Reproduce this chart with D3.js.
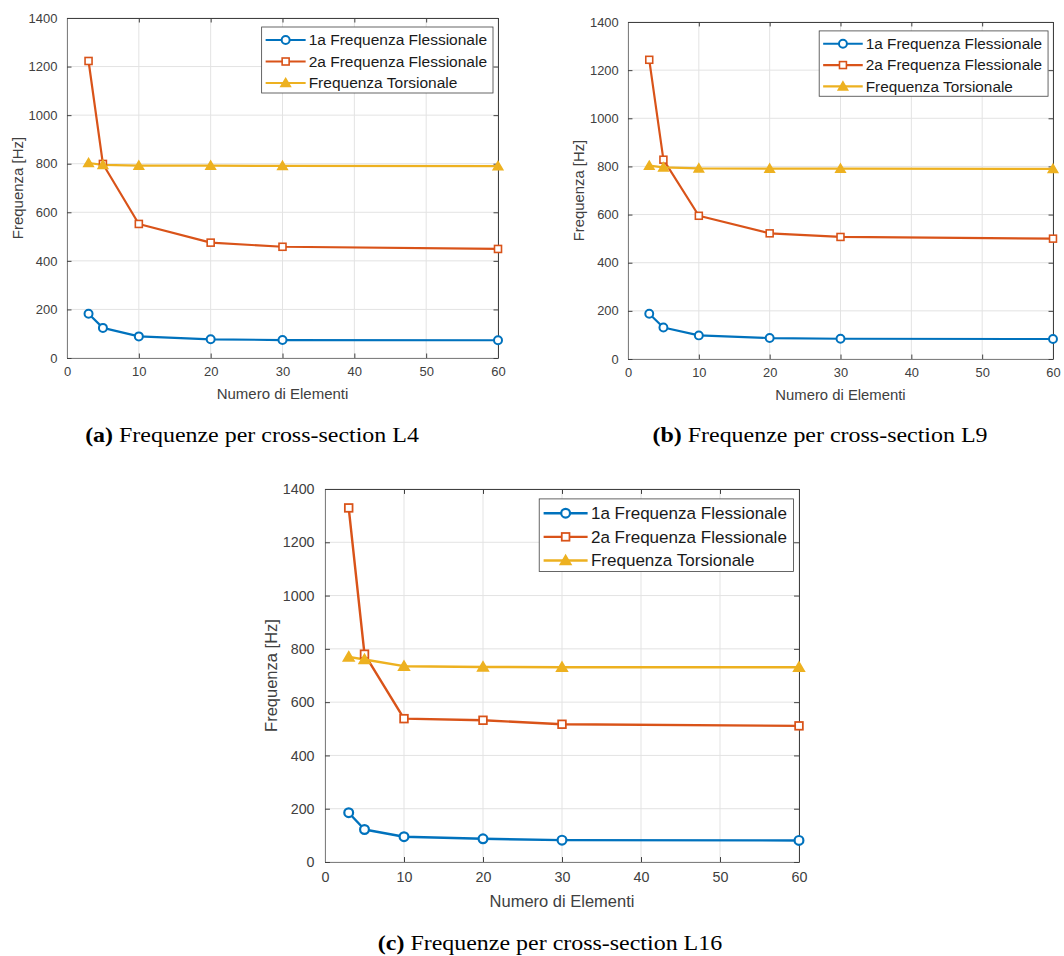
<!DOCTYPE html>
<html>
<head>
<meta charset="utf-8">
<script src="https://cdn.jsdelivr.net/npm/d3@7"></script>
<style>
	body { margin: 0; background: #fff; }
	text { font-family: "Liberation Sans", Arial, sans-serif; }
	.caption { font-family: "Liberation Serif", "Times New Roman", serif; fill: #000; }
</style>
</head>
<body>
<div id="chart"></div>
<script>
// Numero di elementi (asse x)
var elements = [3, 5, 10, 20, 30, 60];
var xTicks = [0, 10, 20, 30, 40, 50, 60];
var yTicks = [0, 200, 400, 600, 800, 1000, 1200, 1400];

var seriesNames = ["1a Frequenza Flessionale", "2a Frequenza Flessionale", "Frequenza Torsionale"];
var seriesColors = ["#0072BD", "#D95319", "#EDB120"];
var seriesMarkers = ["circle", "square", "triangle"];

// cross-section L4
var l4Flex1 = [182, 124, 89, 77, 74, 73];
var l4Flex2 = [1223, 799, 552, 475, 458, 449];
var l4Tors  = [803, 795, 792, 792, 791, 790];
// cross-section L9
var l9Flex1 = [188, 131, 98, 87, 84, 83];
var l9Flex2 = [1243, 828, 595, 522, 507, 500];
var l9Tors  = [803, 796, 792, 791, 791, 790];
// cross-section L16
var l16Flex1 = [185, 122, 95, 87, 82, 81];
var l16Flex2 = [1329, 780, 538, 532, 517, 511];
var l16Tors  = [770, 760, 735, 732, 731, 731];

var captionTags = ["(a)", "(b)", "(c)"];
var captionTexts = ["Frequenze per cross-section L4", "Frequenze per cross-section L9", "Frequenze per cross-section L16"];
var xLabel = "Numero di Elementi",
	yLabel = "Frequenza [Hz]";

var panelData = [
	[l4Flex1, l4Flex2, l4Tors],
	[l9Flex1, l9Flex2, l9Tors],
	[l16Flex1, l16Flex2, l16Tors]
];

// posizione dei tre grafici nella pagina
var panels = [
	{ left: 67, top: 18, width: 431, height: 340, s: 1, capX: 252, capY: 442 },
	{ left: 628, top: 22, width: 425, height: 337, s: 0.99, capX: 820, capY: 442 },
	{ left: 325, top: 489, width: 474, height: 373, s: 1.1, capX: 550, capY: 950 }
];

var svg = d3.select("#chart").append("svg")
	.attr("width", 1064)
	.attr("height", 956);

function drawMarker(g, type, x, y, s, color) {
	if (type === "circle") {
		g.append("circle")
			.attr("cx", x).attr("cy", y).attr("r", 4 * s)
			.attr("fill", "#fff").attr("stroke", color).attr("stroke-width", 2 * s);
	} else if (type === "square") {
		var h = 3.5 * s;
		g.append("rect")
			.attr("x", x - h).attr("y", y - h).attr("width", 2 * h).attr("height", 2 * h)
			.attr("fill", "#fff").attr("stroke", color).attr("stroke-width", 1.6 * s);
	} else {
		var w = 4.8 * s;
		g.append("path")
			.attr("d", "M" + x + "," + (y - 4.6 * s) + "L" + (x + w) + "," + (y + 3.6 * s) + "L" + (x - w) + "," + (y + 3.6 * s) + "Z")
			.attr("fill", color).attr("stroke", color).attr("stroke-width", 1.5 * s)
			.attr("stroke-linejoin", "miter");
	}
}

panels.forEach(function(p, pi) {
	var s = p.s;
	var x = d3.scaleLinear().domain([0, 60]).range([p.left, p.left + p.width]);
	var y = d3.scaleLinear().domain([0, 1400]).range([p.top + p.height, p.top]);

	var g = svg.append("g");

	// griglia
	g.selectAll("line.gx").data(xTicks).enter().append("line")
		.attr("x1", function(d) { return x(d); }).attr("x2", function(d) { return x(d); })
		.attr("y1", p.top).attr("y2", p.top + p.height)
		.attr("stroke", "#e3e3e3").attr("stroke-width", 1);
	g.selectAll("line.gy").data(yTicks).enter().append("line")
		.attr("y1", function(d) { return y(d); }).attr("y2", function(d) { return y(d); })
		.attr("x1", p.left).attr("x2", p.left + p.width)
		.attr("stroke", "#e3e3e3").attr("stroke-width", 1);

	// assi (tick verso l'interno, box)
	var tl = 4.5 * s,
		fmt = d3.format("d");
	var xAxisB = d3.axisBottom(x).tickValues(xTicks).tickFormat(fmt).tickSizeInner(-tl).tickSizeOuter(0).tickPadding(9 * s);
	var xAxisT = d3.axisTop(x).tickValues(xTicks).tickSizeInner(-tl).tickSizeOuter(0).tickFormat("");
	var yAxisL = d3.axisLeft(y).tickValues(yTicks).tickFormat(fmt).tickSizeInner(-tl).tickSizeOuter(0).tickPadding(9.5 * s);
	var yAxisR = d3.axisRight(y).tickValues(yTicks).tickSizeInner(-tl).tickSizeOuter(0).tickFormat("");

	function styleAxis(sel, col) {
		sel.select(".domain").attr("stroke", col).attr("stroke-width", 1);
		sel.selectAll(".tick line").attr("stroke", "#404040");
		sel.selectAll(".tick text").attr("fill", "#404040").attr("font-size", 13 * s)
			.attr("font-family", "'Liberation Sans', Arial, sans-serif");
	}

	g.append("g").attr("transform", "translate(0," + (p.top + p.height) + ")").call(xAxisB).call(styleAxis, "#808080");
	g.append("g").attr("transform", "translate(0," + p.top + ")").call(xAxisT).call(styleAxis, "#404040");
	g.append("g").attr("transform", "translate(" + p.left + ",0)").call(yAxisL).call(styleAxis, "#808080");
	g.append("g").attr("transform", "translate(" + (p.left + p.width) + ",0)").call(yAxisR).call(styleAxis, "#404040");

	// etichette degli assi
	g.append("text")
		.attr("x", p.left + p.width / 2)
		.attr("y", p.top + p.height + 41 * s)
		.attr("text-anchor", "middle")
		.attr("font-size", 15 * s)
		.attr("fill", "#404040")
		.text(xLabel);
	g.append("text")
		.attr("transform", "translate(" + (p.left - 44 * s) + "," + (p.top + p.height / 2) + ") rotate(-90)")
		.attr("text-anchor", "middle")
		.attr("font-size", 15 * s)
		.attr("fill", "#404040")
		.text(yLabel);

	// serie
	var line = d3.line()
		.x(function(d, i) { return x(elements[i]); })
		.y(function(d) { return y(d); });

	panelData[pi].forEach(function(values, si) {
		g.append("path")
			.datum(values)
			.attr("d", line)
			.attr("fill", "none")
			.attr("stroke", seriesColors[si])
			.attr("stroke-width", 2.2 * s)
			.attr("stroke-linejoin", "round");
	});
	panelData[pi].forEach(function(values, si) {
		values.forEach(function(v, i) {
			drawMarker(g, seriesMarkers[si], x(elements[i]), y(v), s, seriesColors[si]);
		});
	});

	// legenda
	var leg = g.append("g");
	var box = leg.append("rect")
		.attr("fill", "#fff")
		.attr("stroke", "#404040")
		.attr("stroke-width", 0.8);
	var maxW = 0;
	seriesNames.forEach(function(name, si) {
		var ry = (13 + 21.5 * si) * s;
		var t = leg.append("text")
			.attr("x", 47 * s)
			.attr("y", ry)
			.attr("dy", "0.35em")
			.attr("font-size", 15.5 * s)
			.attr("fill", "#1a1a1a")
			.text(name);
		maxW = Math.max(maxW, t.node().getComputedTextLength());
		leg.append("line")
			.attr("x1", 4 * s).attr("x2", 44 * s)
			.attr("y1", ry).attr("y2", ry)
			.attr("stroke", seriesColors[si])
			.attr("stroke-width", 2.2 * s);
		drawMarker(leg, seriesMarkers[si], 24 * s, ry, s, seriesColors[si]);
	});
	var legW = 47 * s + maxW + 6 * s,
		legH = 66 * s;
	box.attr("x", 0).attr("y", 0).attr("width", legW).attr("height", legH);
	leg.attr("transform", "translate(" + (p.left + p.width - 5 * s - legW) + "," + (p.top + 9 * s) + ")");

	// didascalia (un po' più larga, come il Computer Modern)
	var cap = svg.append("text")
		.attr("class", "caption")
		.attr("x", p.capX)
		.attr("y", p.capY)
		.attr("text-anchor", "middle")
		.attr("font-size", 21);
	cap.append("tspan").attr("font-weight", "bold").text(captionTags[pi]);
	cap.append("tspan").text(" " + captionTexts[pi]);
	var capW = cap.node().getComputedTextLength();
	cap.attr("textLength", capW * 1.14).attr("lengthAdjust", "spacingAndGlyphs");
});
</script>
</body>
</html>
